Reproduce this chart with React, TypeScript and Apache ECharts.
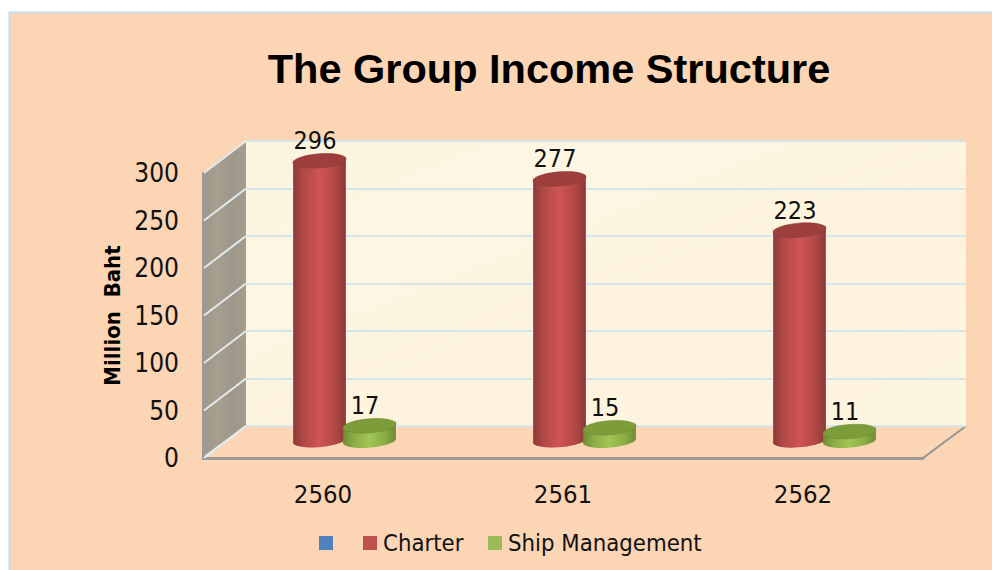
import React, { useEffect, useRef } from "react";
import * as echarts from "echarts";

const categories = ["2560", "2561", "2562"];
const charter = [296, 277, 223];
const shipManagement = [17, 15, 11];
const blankSeries: number[] = [];
const yTicks = [0, 50, 100, 150, 200, 250, 300];

const FONT = "'DejaVu Sans Condensed', 'DejaVu Sans', sans-serif";
const TITLE_FONT = "'Liberation Sans', sans-serif";
const DX = 43;
const DY = -32;

function cylinder(kind: "red" | "green", offset: number) {
  const pal =
    kind === "red"
      ? { edge: "#8c3937", mid: "#b04846", core: "#cd5552", top: "#9c3f3d", topEdge: "#8a3634" }
      : { edge: "#6c8a34", mid: "#8aac43", core: "#a2c655", top: "#7d9c3a", topEdge: "#6a8830" };
  return (params: any, api: any) => {
    const base = api.coord([api.value(0), 0]);
    const tip = api.coord([api.value(0), api.value(1)]);
    const cx = base[0] + offset;
    const rx = 26.5;
    const ry = 7;
    const t = (4.5 * Math.PI) / 180;
    const ex = rx * Math.cos(t);
    const ey = rx * Math.sin(t);
    const d =
      `M${cx - ex} ${tip[1] + ey} L${cx - ex} ${base[1] + ey} ` +
      `A${rx} ${ry} -4.5 0 0 ${cx + ex} ${base[1] - ey} ` +
      `L${cx + ex} ${tip[1] - ey} A${rx} ${ry} -4.5 0 1 ${cx - ex} ${tip[1] + ey} Z`;
    return {
      type: "group",
      children: [
        {
          type: "path",
          shape: { pathData: d, x: cx - ex, y: tip[1] - ey - ry, width: 2 * ex, height: base[1] - tip[1] + 2 * ey + 2 * ry, layout: "center" },
          style: {
            fill: new echarts.graphic.LinearGradient(0, 0, 1, 0, [
              { offset: 0, color: pal.edge },
              { offset: 0.2, color: pal.mid },
              { offset: 0.5, color: pal.core },
              { offset: 0.8, color: pal.mid },
              { offset: 1, color: pal.edge },
            ]),
          },
        },
        {
          type: "ellipse",
          x: cx,
          y: tip[1],
          rotation: t,
          shape: { cx: 0, cy: 0, rx, ry },
          style: { fill: pal.top, stroke: pal.topEdge, lineWidth: 0.5 },
        },
        {
          type: "text",
          x: cx - 4.5,
          y: tip[1] - 20,
          style: {
            text: String(api.value(1)),
            font: `25px ${FONT}`,
            fill: "#111",
            align: "center",
            verticalAlign: "middle",
          },
        },
      ],
    };
  };
}

function sideGrid(params: any, api: any) {
  const p = api.coord([0, api.value(1)]);
  const x0 = params.coordSys.x;
  return {
    type: "line",
    shape: { x1: x0 + 1, y1: p[1], x2: x0 + DX, y2: p[1] + DY },
    style: { stroke: "#e2ebee", lineWidth: 2 },
  };
}

export default function App() {
  const ref = useRef<HTMLDivElement>(null);
  useEffect(() => {
    const chart = echarts.init(ref.current!, undefined, { renderer: "svg" });
    const blank = { show: false };
    const hiddenAxis = {
      axisLine: blank,
      axisTick: blank,
      axisLabel: blank,
      splitLine: blank,
    };
    const grids = [
      { left: 246, top: 141, width: 720, height: 285 },
      { left: 203, top: 173, width: 720, height: 285 },
      { left: 224.5, top: 157, width: 720, height: 285 },
    ];
    const yBase = { type: "value", min: 0, max: 300, interval: 50 };
    const legendBase = {
      top: 531,
      padding: 0,
      itemWidth: 14,
      itemHeight: 14,
      icon: "rect",
      textStyle: { fontSize: 23.7, color: "#111", fontFamily: FONT, padding: [0, 0, 0, 1] },
    };
    chart.setOption({
      animation: false,
      backgroundColor: "#ffffff",
      color: ["#4f81bd", "#c0504d", "#9bbb59"],
      title: {
        text: "The Group Income Structure",
        left: 544,
        top: 42,
        textAlign: "center",
        textStyle: { fontFamily: TITLE_FONT, fontWeight: "bold", fontSize: 41.5, color: "#000" },
      },
      grid: grids,
      xAxis: [
        { gridIndex: 0, type: "category", data: categories, show: false },
        {
          gridIndex: 1,
          type: "category",
          data: categories,
          axisLine: { show: true, lineStyle: { color: "#9a9a9a", width: 3 } },
          axisTick: blank,
          axisLabel: { fontFamily: FONT, fontSize: 25.5, color: "#111", margin: 23 },
        },
        { gridIndex: 2, type: "category", data: categories, ...hiddenAxis },
      ],
      yAxis: [
        {
          ...yBase,
          gridIndex: 0,
          axisLine: blank,
          axisTick: blank,
          axisLabel: blank,
          splitLine: { show: true, lineStyle: { color: "#d6e5e9", width: 2 } },
        },
        {
          ...yBase,
          gridIndex: 1,
          name: "Million  Baht",
          nameLocation: "middle",
          nameGap: 80,
          nameTextStyle: { fontFamily: FONT, fontWeight: "bold", fontSize: 22, color: "#000" },
          axisLine: { show: true, lineStyle: { color: "#9a9a9a", width: 3 } },
          axisTick: blank,
          splitLine: blank,
          axisLabel: { fontFamily: FONT, fontSize: 26, color: "#111", margin: 24, padding: [6, 0, 0, 0] },
        },
        { ...yBase, gridIndex: 2, ...hiddenAxis },
      ],
      legend: [
        { ...legendBase, data: [" "], left: 319 },
        { ...legendBase, data: ["Charter"], left: 363 },
        { ...legendBase, data: ["Ship Management"], left: 488 },
      ],
      graphic: [
        { type: "rect", z: -10, shape: { x: 9.5, y: 12.5, width: 990, height: 570 }, style: { fill: "#fcd5b4", stroke: "#c9daf0", lineWidth: 2 } },
        {
          type: "rect",
          z: -9,
          shape: { x: 246, y: 141, width: 720, height: 285 },
          style: {
            fill: new echarts.graphic.LinearGradient(0, 0, 1, 1, [
              { offset: 0, color: "#fdf4df" },
              { offset: 0.3, color: "#fef6e3" },
              { offset: 0.6, color: "#fdf3dd" },
              { offset: 1, color: "#fef5e1" },
            ]),
          },
        },
        {
          type: "polygon",
          z: -9,
          shape: { points: [[203, 173], [246, 141], [246, 426], [203, 458]] },
          style: {
            fill: new echarts.graphic.LinearGradient(0, 0, 1, 0, [
              { offset: 0, color: "#9f9889" },
              { offset: 0.35, color: "#a69f90" },
              { offset: 0.7, color: "#9e978a" },
              { offset: 1, color: "#a59e8f" },
            ]),
          },
        },
        { type: "line", z: -8, shape: { x1: 203, y1: 458, x2: 246, y2: 426 }, style: { stroke: "#e2ebee", lineWidth: 2 } },
        { type: "line", z: -8, shape: { x1: 923, y1: 458, x2: 966, y2: 426 }, style: { stroke: "#8f9699", lineWidth: 2 } },
      ],
      series: [
        { name: " ", type: "custom", xAxisIndex: 2, yAxisIndex: 2, data: blankSeries, renderItem: () => null },
        {
          name: "sideGrid",
          type: "custom",
          xAxisIndex: 1,
          yAxisIndex: 1,
          silent: true,
          data: yTicks.map((v) => [0, v]),
          renderItem: sideGrid,
        },
        {
          name: "Charter",
          type: "custom",
          xAxisIndex: 2,
          yAxisIndex: 2,
          itemStyle: { color: "#c0504d" },
          encode: { x: 0, y: 1 },
          data: charter.map((v, i) => [i, v]),
          renderItem: cylinder("red", -25),
        },
        {
          name: "Ship Management",
          type: "custom",
          xAxisIndex: 2,
          yAxisIndex: 2,
          itemStyle: { color: "#9bbb59" },
          encode: { x: 0, y: 1 },
          data: shipManagement.map((v, i) => [i, v]),
          renderItem: cylinder("green", 25),
        },
      ],
    });
    return () => chart.dispose();
  }, []);
  return <div ref={ref} style={{ position: "fixed", left: 0, top: 0, width: 992, height: 570 }} />;
}
